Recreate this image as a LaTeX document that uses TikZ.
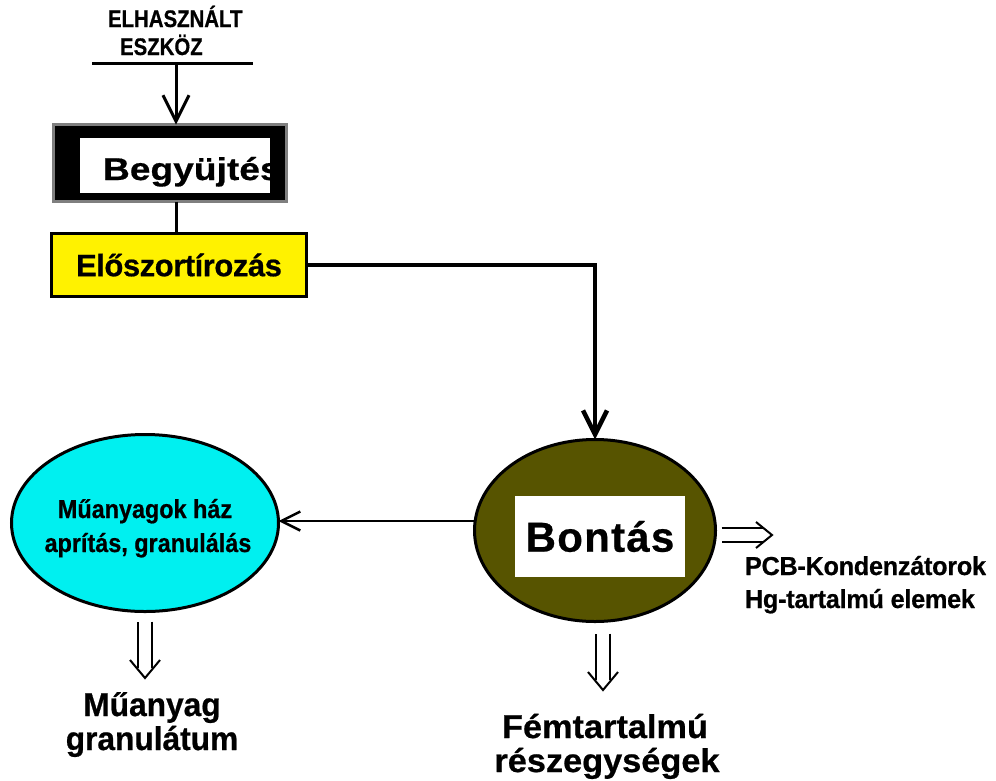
\documentclass[tikz,border=0pt]{standalone}
\usepackage{fontspec}
\setmainfont{Liberation Sans}
\usetikzlibrary{arrows.meta,shapes.geometric}
\definecolor{olivebody}{HTML}{575400}
\definecolor{cyanbody}{HTML}{00F0F0}
\definecolor{framegray}{HTML}{7F7F7F}
% bold Arial-like label: size, horizontal stretch, letter spacing
\newcommand\lblfont[3]{\fontsize{#1}{#1}\selectfont\bfseries\addfontfeature{FakeStretch=#2,LetterSpace=#3,FakeBold=0.6}}
\begin{document}
\begin{tikzpicture}[x=1pt,y=-1pt,
  every node/.style={inner sep=0pt,outer sep=0pt},
  boxline/.style={line width=3pt},
  vtip/.style={-{Straight Barb[length=#1,width=#1]}},
  % hollow double arrow: two parallel shafts and an open V head
  dblshaft/.style={double,double distance=12pt,line width=2pt},
  dblhead/.style={line width=2pt,line join=miter}
]
\useasboundingbox (0,0) rectangle (996,780);

% source label and bar
\node[anchor=base west,font=\lblfont{24}{0.85}{0}] (src1) at (108,27) {ELHASZNÁLT};
\node[anchor=base west,font=\lblfont{24}{0.85}{0}] (src2) at (120,55) {ESZKÖZ};
\coordinate (barL) at (92,63);
\coordinate (barR) at (253,63);
\coordinate (barM) at (176,63);
\draw[boxline] (barL) -- (barR);

% collection box
\node[draw=framegray,fill=black,boxline,minimum width=233,minimum height=77] (begy) at (170,163) {};
\node[fill=white,minimum width=190,minimum height=55] (begyin) at (175,165.5) {};
\begin{scope}
  \clip (begyin.south west) rectangle (begyin.north east);
  \node[anchor=base west,font=\lblfont{31.5}{1.18}{0}] (begytxt) at (103,180) {Begyüjtés};
\end{scope}
\draw[line width=3pt,vtip=26pt] (barM) -- (barM |- begy.north);

% pre-sorting box
\node[draw=black,fill=yellow,boxline,minimum width=255,minimum height=63,font=\lblfont{31}{1}{-1.5}] (elo) at (179,265) {Előszortírozás};
\draw[line width=3pt] (begy.south -| barM) -- (elo.north -| barM);

% dismantling
\node[ellipse,draw=black,fill=olivebody,boxline,minimum width=241,minimum height=182] (bontas) at (595,530.5) {};
\node[fill=white,minimum width=170,minimum height=81,font=\lblfont{42}{1}{3}] (bontaslbl) at (600,536.5) {Bontás};
\draw[line width=4.5pt,vtip=24pt] (elo.east) -| (bontas.north);

% plastics processing
\node[ellipse,draw=black,fill=cyanbody,boxline,minimum width=267,minimum height=177] (mua) at (145,523) {};
\node[anchor=base,font=\lblfont{26}{0.9}{0}] (mua1) at (145,518) {Műanyagok ház};
\node[anchor=base,font=\lblfont{26}{0.9}{0}] (mua2) at (148,552) {aprítás, granulálás};
\draw[line width=2.5pt,vtip=19pt] (bontas.west |- 0,521) -- (mua.east |- 0,521);

% outputs
\node[anchor=base,font=\lblfont{33}{0.96}{0}] (mg1) at (152,716) {Műanyag};
\node[anchor=base,font=\lblfont{33}{0.96}{0}] (mg2) at (152,750) {granulátum};
\coordinate (mgtip) at (145,678);
\draw[dblshaft] ([yshift=-10pt]mua.south) -- ([shift={(0,-10)}]mgtip);
\draw[dblhead] ([shift={(-15,-18)}]mgtip) -- (mgtip) -- ([shift={(15,-18)}]mgtip);

\node[anchor=base,font=\lblfont{33}{1.04}{0}] (fem1) at (605,738) {Fémtartalmú};
\node[anchor=base,font=\lblfont{33}{1.04}{0}] (fem2) at (607,772) {részegységek};
\coordinate (femtip) at (603,690);
\draw[dblshaft] ([yshift=-12pt]femtip |- bontas.south) -- ([shift={(0,-10)}]femtip);
\draw[dblhead] ([shift={(-15,-18)}]femtip) -- (femtip) -- ([shift={(15,-18)}]femtip);

\coordinate (pcbtip) at (772,535);
\draw[dblshaft] ([xshift=6pt]bontas.east |- pcbtip) -- ([shift={(-9,0)}]pcbtip);
\draw[dblhead] ([shift={(-16,-13)}]pcbtip) -- (pcbtip) -- ([shift={(-16,13)}]pcbtip);
\node[anchor=base west,font=\lblfont{26}{0.97}{-1}] (pcb1) at (745,575) {PCB-Kondenzátorok};
\node[anchor=base west,font=\lblfont{26}{0.97}{-1}] (pcb2) at (745,608) {Hg-tartalmú elemek};
\end{tikzpicture}
\end{document}
